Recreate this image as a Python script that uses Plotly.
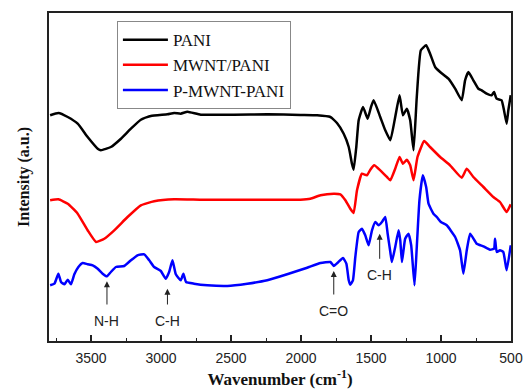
import plotly.graph_objects as go

# ---- data (wavenumber cm^-1, intensity a.u.) ----
pani_wn = [3792, 3733, 3666, 3595, 3524, 3452, 3429, 3358, 3286, 3215, 3144, 3073, 2954, 2906, 2859, 2811,
           2716, 2479, 2241, 2004, 1885, 1790, 1743, 1695, 1659, 1636, 1624, 1605, 1588, 1557, 1524, 1500,
           1481, 1434, 1398, 1362, 1327, 1296, 1272, 1244, 1220, 1196, 1173, 1144, 1106, 1078, 1042, 1006,
           947, 899, 852, 828, 804, 769, 733, 709, 674, 638, 621, 603, 567, 550, 531, 519, 502]
pani_i = [225.7, 228, 224, 217.3, 204, 192.3, 190.7, 194, 202.3, 212.3, 221.3, 225, 226.7, 228, 227.3, 229.3,
          226.3, 226.3, 226.7, 226, 225.7, 224, 218, 207.3, 194, 177.3, 171.3, 194, 220.7, 234, 222.3, 234,
          240.7, 224, 210.7, 200.7, 224, 245.7, 225.7, 232.3, 220.7, 190.7, 244, 290.7, 295.7, 287.3, 274, 269,
          262.3, 252.3, 240.7, 260.7, 269, 260.7, 252.3, 250.7, 247.3, 245.7, 249, 242.3, 240.7, 230.7, 217.3, 230.7, 245.7]

mwnt_wn = [3792, 3733, 3666, 3595, 3524, 3464, 3405, 3334, 3239, 3144, 3049, 2906, 2716, 2479, 2241, 2004,
           1933, 1861, 1766, 1719, 1683, 1648, 1624, 1600, 1565, 1529, 1505, 1477, 1434, 1386, 1362, 1327,
           1296, 1272, 1244, 1220, 1196, 1168, 1120, 1078, 1006, 935, 852, 816, 769, 697, 626, 579, 531, 502]
mwnt_i = [140.7, 141.7, 137.3, 127.3, 110.7, 99, 102.3, 110.7, 124, 135.7, 139.7, 141.7, 141.3, 141.3, 141.3, 141.3,
          142.3, 145.7, 147.3, 146.7, 140.7, 132.3, 128, 150.7, 167.3, 165.7, 171.3, 175.7, 170.7, 164, 160.7, 172.3,
          184, 177.3, 181.3, 175.7, 160.7, 184, 200, 194, 184, 175.7, 163.3, 172.3, 164, 154, 144, 139, 129, 136.7]

pm_wn = [3792, 3761, 3733, 3714, 3690, 3666, 3643, 3619, 3590, 3559, 3524, 3488, 3452, 3417, 3386, 3358,
         3322, 3263, 3215, 3168, 3120, 3084, 3049, 3001, 2966, 2942, 2918, 2894, 2859, 2840, 2821, 2764,
         2669, 2526, 2384, 2241, 2099, 1956, 1861, 1790, 1766, 1738, 1700, 1676, 1659, 1648, 1629, 1612,
         1588, 1565, 1541, 1517, 1493, 1469, 1446, 1422, 1398, 1381, 1362, 1351, 1327, 1303, 1291, 1279,
         1256, 1232, 1213, 1189, 1173, 1154, 1130, 1106, 1089, 1054, 1030, 1001, 959, 899, 864, 840,
         816, 792, 745, 697, 650, 621, 614, 602, 579, 555, 531, 502]
pm_i = [55.7, 57.3, 67.3, 59, 56.7, 61.3, 56.7, 66.7, 74, 78, 76.7, 75.7, 72.3, 67.3, 64.7, 69,
        74, 75, 80.7, 85.7, 86.7, 80.7, 74, 70, 62.3, 69, 80.7, 66.7, 60.7, 67.3, 59, 57.3,
        55.7, 55, 57.3, 60.7, 66.7, 73.3, 78, 79, 75, 78.3, 83, 77.3, 60.7, 56.3, 60.7, 84,
        109, 112.3, 105.7, 95.7, 110.7, 119, 115.7, 119, 124, 107.3, 89, 79, 94, 110.7, 100.7, 79,
        102.3, 107.3, 95.7, 55.7, 94, 140.7, 165.7, 154, 137.3, 127.3, 124, 119, 115.7, 104, 90.7, 67.3,
        90.7, 107.3, 97.3, 94.7, 91.3, 92.3, 102.3, 89, 90.7, 89, 70.7, 95.7]

series_names = ["PANI", "MWNT/PANI", "P-MWNT-PANI"]
series_colors = ["#000000", "#ff0000", "#0000ff"]

# band labels: text, wavenumber, arrow tip intensity, label intensity
ann_text = ["N-H", "C-H", "C=O", "C-H"]
ann_wn = [3386, 2954, 1766, 1438]
ann_tip = [59.7, 52.3, 70, 107.3]
ann_ly = [20, 20, 30, 65.7]

x_tickvals = [3500, 3000, 2500, 2000, 1500, 1000, 500]

fig = go.Figure()
for wn, inten, name, col in zip([pani_wn, mwnt_wn, pm_wn], [pani_i, mwnt_i, pm_i], series_names, series_colors):
    fig.add_trace(go.Scatter(x=wn, y=inten, mode="lines", name=name,
                             line=dict(color=col, width=2.5, shape="spline", smoothing=0.4)))

for t, w, tip, ly in zip(ann_text, ann_wn, ann_tip, ann_ly):
    fig.add_annotation(x=w, y=tip, ax=w, ay=ly, axref="x", ayref="y", xref="x", yref="y",
                       text=t, showarrow=True, arrowhead=2, arrowsize=1.2, arrowwidth=1,
                       arrowcolor="#222", startstandoff=7,
                       font=dict(family="Liberation Sans, Arial", size=14, color="#222"))

fig.update_layout(
    width=523, height=389,
    margin=dict(l=49, r=12, t=13, b=48),
    paper_bgcolor="white", plot_bgcolor="white",
    showlegend=True,
    legend=dict(x=0.147, y=0.975, xanchor="left", yanchor="top",
                bordercolor="#888", borderwidth=1, bgcolor="white", itemwidth=45,
                font=dict(family="Liberation Serif, Times New Roman", size=17, color="#111"),
                tracegroupgap=0),
    xaxis=dict(range=[3800, 500], tickvals=x_tickvals, ticks="inside", ticklen=6, tickwidth=1.5,
               tickcolor="#222", ticklabelstandoff=3, automargin=False,
               minor=dict(dtick=250, ticks="inside", ticklen=3, tickwidth=1, tickcolor="#222"),
               showgrid=False, zeroline=False, showline=True, linecolor="#222", linewidth=1.5, mirror=True,
               tickfont=dict(family="Liberation Sans, Arial", size=14, color="#222"),
               title=dict(text="<b>Wavenumber (cm<sup>-1</sup>)</b>", standoff=20,
                          font=dict(family="Liberation Serif, Times New Roman", size=17, color="#111"))),
    yaxis=dict(range=[0, 328], showticklabels=False, ticks="", showgrid=False, zeroline=False,
               showline=True, linecolor="#222", linewidth=1.5, mirror=True, automargin=False,
               title=dict(text="<b>Intensity (a.u.)</b>", standoff=14,
                          font=dict(family="Liberation Serif, Times New Roman", size=16, color="#111"))),
)

fig.write_html("out.html")
